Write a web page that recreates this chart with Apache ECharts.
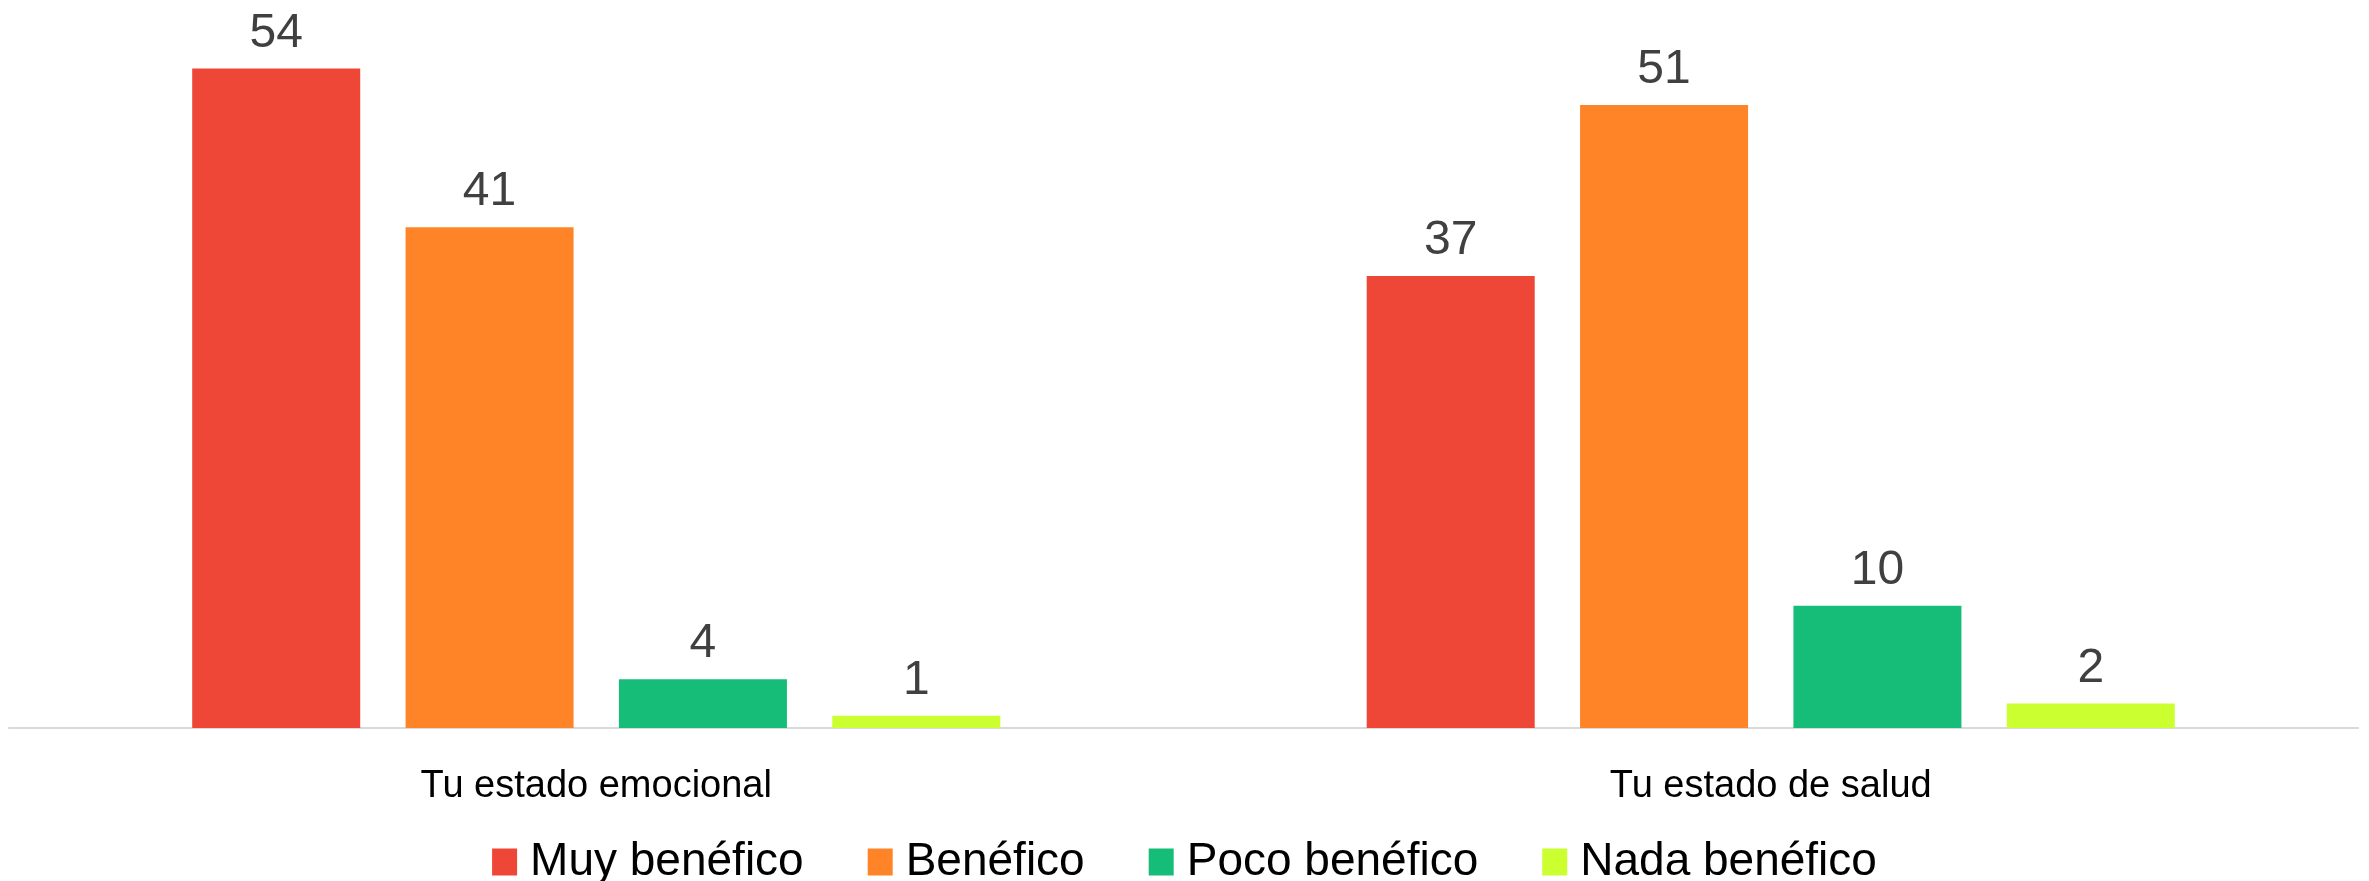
<!DOCTYPE html>
<html>
<head>
<meta charset="utf-8">
<script src="https://cdn.jsdelivr.net/npm/echarts@6/dist/echarts.min.js"></script>
<style>html,body{margin:0;padding:0;background:#fff}#c{width:2369px;height:881px}</style>
</head>
<body>
<div id="c"></div>
<script>
const categories = ['Tu estado emocional', 'Tu estado de salud'];
const seriesNames = ['Muy benéfico', 'Benéfico', 'Poco benéfico', 'Nada benéfico'];
const muyBenefico = [54, 37];
const benefico = [41, 51];
const pocoBenefico = [4, 10];
const nadaBenefico = [1, 2];
const colors = ['#EE4637', '#FF8427', '#16BD78', '#CCFF30'];
const values = [muyBenefico, benefico, pocoBenefico, nadaBenefico];

const chart = echarts.init(document.getElementById('c'));
chart.setOption({
  animation: false,
  textStyle: { fontFamily: 'Liberation Sans' },
  grid: { left: 9, right: 11, top: 0, bottom: 153, containLabel: false },
  legend: {
    data: seriesNames,
    top: 834,
    left: 'center',
    itemWidth: 25,
    itemHeight: 27,
    itemGap: 64,
    icon: 'rect',
    textStyle: { fontSize: 46, color: '#000', padding: [0, 0, 0, 8], fontFamily: 'Liberation Sans' }
  },
  xAxis: {
    type: 'category',
    data: categories,
    axisLine: { lineStyle: { color: '#d9d9d9', width: 2 } },
    axisTick: { show: false },
    axisLabel: { fontSize: 38, color: '#000', margin: 40, fontFamily: 'Liberation Sans' }
  },
  yAxis: {
    type: 'value', min: 0, max: 59.6, show: false, splitLine: { show: false }
  },
  series: values.map((v, i) => ({
    name: seriesNames[i],
    type: 'bar',
    data: v,
    barWidth: 168,
    barGap: '27%',
    itemStyle: { color: colors[i] },
    label: { show: true, position: 'top', distance: 11, fontSize: 48, color: '#404040', fontFamily: 'Liberation Sans' }
  }))
});
</script>
</body>
</html>
